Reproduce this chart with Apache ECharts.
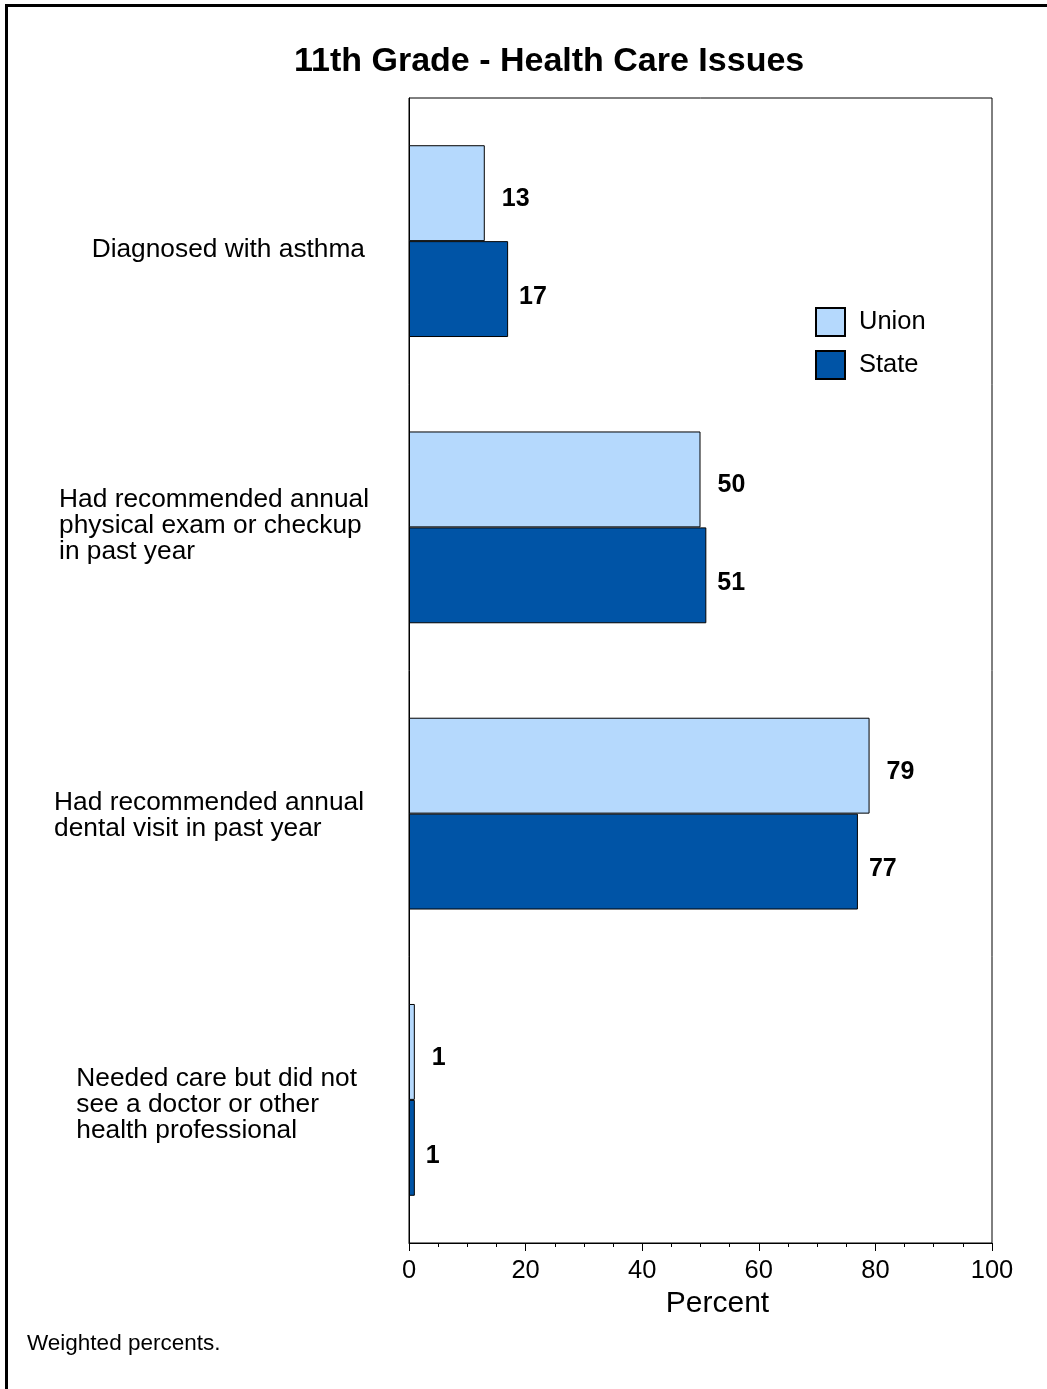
<!DOCTYPE html>
<html>
<head>
<meta charset="utf-8">
<script src="https://cdn.jsdelivr.net/npm/echarts@6/dist/echarts.min.js"></script>
<style>
html,body{margin:0;padding:0;background:#fff;}
#chart{width:1047px;height:1389px;}
</style>
</head>
<body>
<div id="chart"></div>
<script>
const categories = [
  'Diagnosed with asthma',
  'Had recommended annual\nphysical exam or checkup\nin past year',
  'Had recommended annual\ndental visit in past year',
  'Needed care but did not\nsee a doctor or other\nhealth professional'
];
const seriesNames = ['Union', 'State'];
const unionValues = [13, 50, 79, 1];
const stateValues = [17, 51, 77, 1];
const xTicks = [0, 20, 40, 60, 80, 100];

const FONT = "'Liberation Sans', Arial, Helvetica, sans-serif";
const chart = echarts.init(document.getElementById('chart'), null, {renderer: 'canvas'});

const labelBase = {fontFamily: FONT, fontSize: 26.3, lineHeight: 26, color: '#000', align: 'left'};
const labelRich = {
  c0: Object.assign({}, labelBase, {padding: [18, 4, 0, 0]}),
  c1: Object.assign({}, labelBase, {padding: [0, 0, 4, 0]}),
  c2: Object.assign({}, labelBase, {padding: [4, 5, 0, 0]}),
  c3: Object.assign({}, labelBase, {padding: [10, 12, 0, 0]})
};

const option = {
  backgroundColor: '#ffffff',
  animation: false,
  title: [
    {
      text: '11th Grade - Health Care Issues',
      left: 294,
      top: 45,
      padding: 0,
      textStyle: {fontFamily: FONT, fontSize: 34, fontWeight: 'bold', color: '#000'}
    },
    {
      text: 'Weighted percents.',
      left: 27,
      top: 1332,
      padding: 0,
      textStyle: {fontFamily: FONT, fontSize: 22.5, fontWeight: 'normal', color: '#000'}
    }
  ],
  graphic: [
    {
      type: 'rect',
      silent: true,
      shape: {x: 6.5, y: 5.5, width: 1200, height: 1500},
      style: {fill: 'none', stroke: '#000', lineWidth: 3}
    }
  ],
  legend: {
    orient: 'vertical',
    left: 815,
    top: 307,
    padding: 0,
    icon: 'rect',
    itemWidth: 29,
    itemHeight: 28,
    itemGap: 13,
    data: seriesNames,
    textStyle: {fontFamily: FONT, fontSize: 25.5, color: '#000', padding: [0, 0, 0, 9]}
  },
  grid: {
    left: 409,
    right: 55,
    top: 98,
    bottom: 146,
    show: true,
    borderColor: '#000',
    borderWidth: 1,
    containLabel: false
  },
  xAxis: {
    type: 'value',
    min: 0,
    max: 100,
    interval: 20,
    name: 'Percent',
    nameLocation: 'middle',
    nameGap: 44,
    nameTextStyle: {fontFamily: FONT, fontSize: 30, color: '#000', padding: [0, 0, 0, 34]},
    axisLine: {show: true, lineStyle: {color: '#000', width: 1}},
    axisTick: {show: true, inside: false, length: 8, lineStyle: {color: '#000'}},
    minorTick: {show: true, splitNumber: 4, length: 4, lineStyle: {color: '#000'}},
    splitLine: {show: false},
    axisLabel: {
      fontFamily: FONT, fontSize: 25.5, color: '#000', margin: 15,
      formatter: function (v) { return xTicks.indexOf(v) >= 0 ? String(v) : ''; }
    }
  },
  yAxis: {
    type: 'category',
    inverse: true,
    data: categories,
    axisLine: {show: true, lineStyle: {color: '#000', width: 1}},
    axisTick: {show: false},
    splitLine: {show: false},
    axisLabel: {
      align: 'right',
      margin: 40,
      formatter: function (v, i) {
        return v.split('\n').map(function (l) { return '{c' + i + '|' + l + '}'; }).join('\n');
      },
      rich: labelRich
    }
  },
  series: [
    {
      name: seriesNames[0],
      type: 'bar',
      data: unionValues,
      barGap: '0%',
      barCategoryGap: '33%',
      itemStyle: {color: '#B5D9FD', borderColor: '#000', borderWidth: 1},
      label: {
        show: true, position: 'right', distance: 17, offset: [0, 6],
        fontFamily: FONT, fontSize: 25, fontWeight: 'bold', color: '#000'
      }
    },
    {
      name: seriesNames[1],
      type: 'bar',
      data: stateValues,
      barGap: '0%',
      barCategoryGap: '33%',
      itemStyle: {color: '#0054A6', borderColor: '#000', borderWidth: 1},
      label: {
        show: true, position: 'right', distance: 11, offset: [0, 8],
        fontFamily: FONT, fontSize: 25, fontWeight: 'bold', color: '#000'
      }
    }
  ]
};
chart.setOption(option);
</script>
</body>
</html>
